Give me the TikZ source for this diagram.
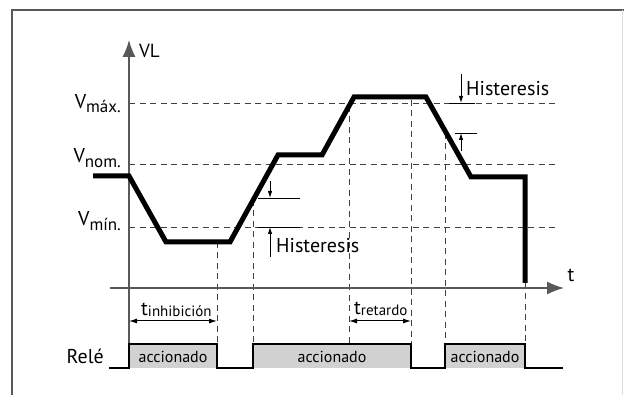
\documentclass[tikz,border=0pt]{standalone}
\usepackage{fontspec}
\setmainfont{PT Sans}
\usetikzlibrary{arrows.meta}
\newcommand{\fsz}[1]{\fontsize{#1}{#1}\selectfont}
\newcommand{\lowsub}[3]{\raisebox{-#2pt}{\fsz{#1}#3}}
\begin{document}
\begin{tikzpicture}[x=1pt,y=-1pt,
  curve/.style={line width=5pt, line join=miter},
  guide/.style={draw=black!75, line width=0.9pt, dash pattern=on 6pt off 4.5pt},
  axisline/.style={draw=black!65, line width=1.3pt},
  hyst/.style={draw=black, line width=0.9pt},
  htip/.style={-{Latex[length=7pt,width=4.5pt]}},
  span/.style={draw=black, line width=1pt, {Latex[length=8pt,width=5pt]}-{Latex[length=8pt,width=5pt]}},
  relay/.style={draw=black, line width=1.3pt},
  txt/.style={inner sep=0pt, font=\fsz{20}},
  acc/.style={inner sep=0pt, font=\fsz{16}}
]
\useasboundingbox (0,0) rectangle (624,395);
% frame
\draw[black!65, line width=2pt] (11.5,400) -- (11.5,10) -- (624,10);
\draw[black!12, line width=1pt] (622.5,10) -- (622.5,400);

% key coordinates
\coordinate (p0) at (93,176);
\coordinate (p1) at (129,176);
\coordinate (p2) at (166,242);
\coordinate (p3) at (230,242);
\coordinate (p4) at (278,155);
\coordinate (p5) at (322,155);
\coordinate (p6) at (354,97);
\coordinate (p7) at (426,97);
\coordinate (p8) at (471,177);
\coordinate (p9) at (525,177);
\coordinate (p10) at (525,283);

% relay fills
\fill[black!18] (129,344) rectangle (217,368);
\fill[black!18] (253,344) rectangle (411,368);
\fill[black!18] (445,344) rectangle (525,368);

% horizontal guides
\draw[guide] (129,103) -- (557,103);
\draw[guide] (129,164) -- (557,164);
\draw[guide] (129,227) -- (557,227);

% vertical guides
\draw[guide] (217,242) -- (217,344);
\draw[guide] (253,200) -- (253,344);
\draw[guide] (349,106) -- (349,344);
\draw[guide] (411,100) -- (411,344);
\draw[guide] (445,133) -- (445,344);
\draw[guide] (525,283) -- (525,344);

% hysteresis marks
\draw[hyst] (258,198) -- (300,198);
\draw[hyst] (258,227) -- (300,227);
\draw[hyst] (449,103) -- (475,103);
\draw[hyst] (455,133) -- (477,133);
\draw[hyst, htip] (270,181) -- (270,198);
\draw[hyst, htip] (270,257) -- (270,227);
\draw[hyst, htip] (461,74) -- (461,103);
\draw[hyst, htip] (461,151) -- (461,133);

% axes
\draw[axisline, -{Latex[length=17pt,width=13pt]}] (129,344) -- (129,40);
\draw[axisline, -{Latex[length=17pt,width=13pt]}] (110,288) -- (564,288);

% voltage curve
\draw[curve] (p0) -- (p1) -- (p2) -- (p3) -- (p4) -- (p5) -- (p6) -- (p7) -- (p8) -- (p9) -- (p10);

% relay line
\draw[relay] (109,368) -- (129,368) -- (129,344) -- (217,344) -- (217,368) -- (253,368) -- (253,344) -- (411,344) -- (411,368) -- (445,368) -- (445,344) -- (525,344) -- (525,368) -- (563,368);

% time spans
\draw[span] (129,321) -- (217,321);
\draw[span] (349,321) -- (411,321);

% labels
\node[txt, anchor=west] (vl) at (139,51) {\fsz{19}VL};
\node[txt] (t) at (571,275) {t};
\node[txt, anchor=base east] (vmax) at (121,109) {V\lowsub{17}{4}{máx.}};
\node[txt, anchor=base east] (vnom) at (121,163) {V\lowsub{17}{5}{nom.}};
\node[txt, anchor=base east] (vmin) at (121,226) {V\lowsub{17}{5}{mín.}};
\node[txt, anchor=west] (h1) at (466,89) {Histeresis};
\node[txt, anchor=west] (h2) at (276,246) {Histeresis};
\node[txt, anchor=base west] (tinh) at (141,316) {t\lowsub{15}{1}{inhibición}};
\node[txt, anchor=base west] (tret) at (354,315) {t\lowsub{15}{1}{retardo}};
\node[txt, anchor=east] (rele) at (104,356) {Relé};
\node[acc] (a1) at (173,357) {accionado};
\node[acc] (a2) at (332,357) {accionado};
\node[acc] (a3) at (485,357) {accionado};
\end{tikzpicture}
\end{document}
